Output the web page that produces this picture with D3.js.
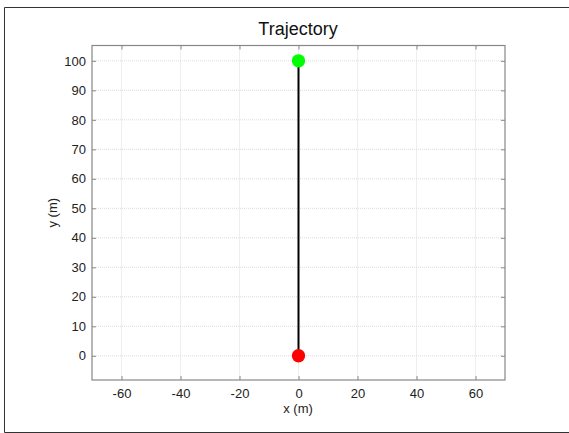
<!DOCTYPE html>
<html><head><meta charset="utf-8">
<script src="https://cdn.jsdelivr.net/npm/d3@7"></script>
<style>body{margin:0;background:#fff}svg{display:block}text{font-family:"Liberation Sans",Arial,sans-serif}</style>
</head><body><svg id="c" width="569" height="433"></svg>
<script>
const pathX = [0, 0];
const pathY = [0, 100];
const startPoint = {x: 0, y: 0};
const endPoint = {x: 0, y: 100};
const xTicks = [-60, -40, -20, 0, 20, 40, 60];
const yTicks = [0, 10, 20, 30, 40, 50, 60, 70, 80, 90, 100];
const xDomain = [-70, 70];
const yDomain = [-8.2, 105.2];

const svg = d3.select("#c");
const L = 92, R = 505, T = 45.5, B = 380;
const x = d3.scaleLinear().domain(xDomain).range([L, R]);
const y = d3.scaleLinear().domain(yDomain).range([B, T]);
const fmt = d => String(d);

// figure border
svg.append("path").attr("d", `M575,7.5H4.5V432.5H575`).attr("fill","none").attr("stroke","#333").attr("stroke-width",1);

// grid
const g = svg.append("g");
g.selectAll(".gx").data(xTicks).join("line")
  .attr("x1", d=>x(d)).attr("x2", d=>x(d)).attr("y1", T).attr("y2", B)
  .attr("stroke","#dcdcdc").attr("stroke-dasharray","1,1");
g.selectAll(".gy").data(yTicks).join("line")
  .attr("y1", d=>y(d)).attr("y2", d=>y(d)).attr("x1", L).attr("x2", R)
  .attr("stroke","#dcdcdc").attr("stroke-dasharray","1,1");

function styleAxis(sel){
  sel.select(".domain").remove();
  sel.selectAll(".tick line").attr("stroke","#888");
  sel.selectAll(".tick text").attr("fill","#222").style("font-size","13px");
}
svg.append("g").attr("transform",`translate(0,${B})`)
  .call(d3.axisBottom(x).tickValues(xTicks).tickFormat(fmt).tickSizeInner(-4).tickSizeOuter(0).tickPadding(9))
  .call(styleAxis);
svg.append("g").attr("transform",`translate(${L},0)`)
  .call(d3.axisLeft(y).tickValues(yTicks).tickFormat(fmt).tickSizeInner(-4).tickSizeOuter(0).tickPadding(6))
  .call(styleAxis);
svg.append("g").attr("transform",`translate(0,${T})`)
  .call(d3.axisTop(x).tickValues(xTicks).tickSizeInner(-4).tickSizeOuter(0).tickFormat(""))
  .call(styleAxis);
svg.append("g").attr("transform",`translate(${R},0)`)
  .call(d3.axisRight(y).tickValues(yTicks).tickSizeInner(-4).tickSizeOuter(0).tickFormat(""))
  .call(styleAxis);

// box
svg.append("rect").attr("x",L).attr("y",T).attr("width",R-L).attr("height",B-T)
  .attr("fill","none").attr("stroke","#888").attr("stroke-width",1.2);

// trajectory
const pts = pathX.map((v,i)=>[v, pathY[i]]);
svg.append("path").datum(pts)
  .attr("d", d3.line().x(d=>x(d[0])).y(d=>y(d[1])))
  .attr("fill","none").attr("stroke","#000").attr("stroke-width",2);
svg.append("circle").attr("cx",x(endPoint.x)).attr("cy",y(endPoint.y)).attr("r",6.7).attr("fill","#00ff00");
svg.append("circle").attr("cx",x(startPoint.x)).attr("cy",y(startPoint.y)).attr("r",6.7).attr("fill","#ff0000");

// labels
svg.append("text").attr("x",298).attr("y",35).attr("text-anchor","middle")
  .style("font-size","18px").attr("fill","#111").text("Trajectory");
svg.append("text").attr("x",298).attr("y",413).attr("text-anchor","middle")
  .style("font-size","13px").attr("fill","#222").text("x (m)");
svg.append("text").attr("transform",`translate(57,${(T+B)/2}) rotate(-90)`).attr("text-anchor","middle")
  .style("font-size","13px").attr("fill","#222").text("y (m)");
</script></body></html>
